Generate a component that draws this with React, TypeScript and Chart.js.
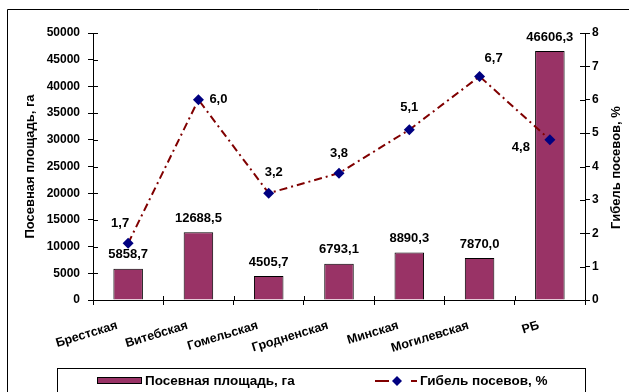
import React, { useEffect, useRef } from 'react';
import { Chart, registerables } from 'chart.js';

Chart.register(...registerables);

const categories = ['Брестская', 'Витебская', 'Гомельская', 'Гродненская', 'Минская', 'Могилевская', 'РБ'];
const areaValues = [5858.7, 12688.5, 4505.7, 6793.1, 8890.3, 7870.0, 46606.3];
const lossValues = [1.7, 6.0, 3.2, 3.8, 5.1, 6.7, 4.8];
const areaLabel = 'Посевная площадь, га';
const lossLabel = 'Гибель посевов, %';
const areaAxisMax = 50000;
const areaAxisStep = 5000;
const lossAxisMax = 8;
const lossAxisStep = 1;

// label offsets (style) for the line series labels, relative to each point
const lossLabelOffsets: [number, number][] = [
  [-8, -20], [20, 0], [5, -21], [0, -20], [0, -22], [14, -18], [-29, 8],
];

const FONT = '"Liberation Sans", Arial, sans-serif';
const BAR_COLOR = '#993366';
const LINE_COLOR = '#800000';
const MARKER_COLOR = '#000080';
const LINE_DASH = [8, 4, 2, 4];

const fmt = (v: number) => v.toFixed(1).replace('.', ',');

const decorPlugin = {
  id: 'decor',
  afterDatasetsDraw(chart: any) {
    const ctx = chart.ctx as CanvasRenderingContext2D;
    ctx.save();
    ctx.font = `bold 13px ${FONT}`;
    ctx.fillStyle = '#000';
    ctx.textAlign = 'center';
    ctx.textBaseline = 'middle';
    const barMeta = chart.getDatasetMeta(1);
    barMeta.data.forEach((el: any, i: number) => {
      ctx.fillText(fmt(areaValues[i]), el.x, el.y - 14);
    });
    const lineMeta = chart.getDatasetMeta(0);
    lineMeta.data.forEach((el: any, i: number) => {
      const [dx, dy] = lossLabelOffsets[i];
      ctx.fillText(fmt(lossValues[i]), el.x + dx, el.y + dy);
    });
    ctx.restore();
  },
  afterDraw(chart: any) {
    const ctx = chart.ctx as CanvasRenderingContext2D;
    const area = chart.chartArea;
    ctx.save();
    ctx.strokeStyle = '#000';
    ctx.lineWidth = 1;
    // inward halves of crossing tick marks
    const yS = chart.scales.y;
    const y1S = chart.scales.y1;
    ctx.beginPath();
    yS.ticks.forEach((t: any) => {
      const py = Math.round(yS.getPixelForValue(t.value)) + 0.5;
      ctx.moveTo(Math.round(area.left), py);
      ctx.lineTo(Math.round(area.left) + 5, py);
    });
    y1S.ticks.forEach((t: any) => {
      const py = Math.round(y1S.getPixelForValue(t.value)) + 0.5;
      ctx.moveTo(Math.round(area.right), py);
      ctx.lineTo(Math.round(area.right) - 5, py);
    });
    const n = categories.length;
    const cw = (area.right - area.left) / n;
    for (let i = 0; i <= n; i++) {
      const px = Math.round(area.left + i * cw) + 0.5;
      ctx.moveTo(px, Math.round(area.bottom));
      ctx.lineTo(px, Math.round(area.bottom) - 4);
    }
    ctx.stroke();

    // right axis title (reads bottom to top)
    ctx.save();
    ctx.font = `bold 13px ${FONT}`;
    ctx.fillStyle = '#000';
    ctx.textAlign = 'center';
    ctx.textBaseline = 'middle';
    ctx.translate(616, (area.top + area.bottom) / 2 + 1);
    ctx.rotate(-Math.PI / 2);
    ctx.fillText(lossLabel, 0, 0);
    ctx.restore();

    // outer frame
    ctx.beginPath();
    ctx.moveTo(7.5, 400);
    ctx.lineTo(7.5, 9.5);
    ctx.lineTo(640, 9.5);
    ctx.stroke();

    // legend box
    ctx.strokeStyle = '#000';
    ctx.strokeRect(57.5, 368.5, 528, 40);
    // bar swatch
    ctx.fillStyle = BAR_COLOR;
    ctx.fillRect(97, 377, 45, 7);
    ctx.strokeRect(97.5, 377.5, 44, 6);
    ctx.font = `bold 13.5px ${FONT}`;
    ctx.fillStyle = '#000';
    ctx.textAlign = 'left';
    ctx.textBaseline = 'middle';
    ctx.fillText(areaLabel, 145, 381);
    // line swatch
    ctx.strokeStyle = LINE_COLOR;
    ctx.lineWidth = 2;
    ctx.setLineDash([14, 8, 4, 10]);
    ctx.beginPath();
    ctx.moveTo(375, 381);
    ctx.lineTo(417, 381);
    ctx.stroke();
    ctx.setLineDash([]);
    ctx.fillStyle = MARKER_COLOR;
    ctx.beginPath();
    ctx.moveTo(397, 376);
    ctx.lineTo(402, 381);
    ctx.lineTo(397, 386);
    ctx.lineTo(392, 381);
    ctx.closePath();
    ctx.fill();
    ctx.fillStyle = '#000';
    ctx.fillText(lossLabel, 420, 381);
    ctx.restore();
  },
};

export default function App() {
  const ref = useRef<HTMLCanvasElement | null>(null);
  useEffect(() => {
    if (!ref.current) return;
    const tickFont = { family: FONT, size: 12, weight: 'bold' as const };
    const xTickFont = { family: FONT, size: 12.5, weight: 'bold' as const };
    const titleFont = { family: FONT, size: 13, weight: 'bold' as const };
    const chart = new Chart(ref.current, {
      type: 'bar',
      data: {
        labels: categories,
        datasets: [
          {
            type: 'line',
            label: lossLabel,
            data: lossValues,
            yAxisID: 'y1',
            borderColor: LINE_COLOR,
            borderWidth: 2,
            borderDash: LINE_DASH,
            backgroundColor: MARKER_COLOR,
            pointStyle: 'rectRot',
            pointRadius: 5.5,
            pointBorderWidth: 0,
            pointBackgroundColor: MARKER_COLOR,
            tension: 0,
            fill: false,
            order: 0,
          } as any,
          {
            type: 'bar',
            label: areaLabel,
            data: areaValues,
            yAxisID: 'y',
            backgroundColor: BAR_COLOR,
            borderColor: '#000',
            borderWidth: 1,
            barPercentage: 0.42,
            categoryPercentage: 1,
            order: 1,
          } as any,
        ],
      },
      options: {
        responsive: false,
        animation: false,
        devicePixelRatio: 1,
        layout: { padding: { top: 33, bottom: 0, left: 0, right: 0 } },
        plugins: { legend: { display: false }, tooltip: { enabled: false } },
        scales: {
          x: {
            offset: true,
            grid: { offset: true, drawOnChartArea: false, drawTicks: true, tickLength: 5, color: '#000' },
            border: { color: '#000', width: 1 },
            ticks: {
              font: xTickFont,
              color: '#000',
              minRotation: 17,
              maxRotation: 17,
              autoSkip: false,
              labelOffset: -11,
              padding: 13,
            },
            afterFit: (s: any) => { s.height = 92; },
          },
          y: {
            position: 'left',
            min: 0,
            max: areaAxisMax,
            grid: { drawOnChartArea: false, drawTicks: true, tickLength: 5, color: '#000' },
            border: { color: '#000', width: 1 },
            ticks: {
              stepSize: areaAxisStep,
              font: tickFont,
              color: '#000',
              padding: 8,
              callback: (v: any) => String(v),
            },
            title: { display: true, text: areaLabel, font: titleFont, color: '#000', padding: { top: 23, bottom: 0 } },
            afterFit: (s: any) => { s.width = 93; },
          },
          y1: {
            position: 'right',
            min: 0,
            max: lossAxisMax,
            grid: { drawOnChartArea: false, drawTicks: true, tickLength: 5, color: '#000' },
            border: { color: '#000', width: 1 },
            ticks: {
              stepSize: lossAxisStep,
              font: tickFont,
              color: '#000',
              padding: 2,
              callback: (v: any) => String(v),
            },
            title: { display: false },
            afterFit: (s: any) => { s.width = 44; },
          },
        },
      },
      plugins: [decorPlugin],
    });
    return () => chart.destroy();
  }, []);
  return (
    <div style={{ position: 'fixed', left: 0, top: 0, width: 629, height: 392, background: '#fff' }}>
      <canvas ref={ref} width={629} height={392} style={{ display: 'block' }} />
    </div>
  );
}
